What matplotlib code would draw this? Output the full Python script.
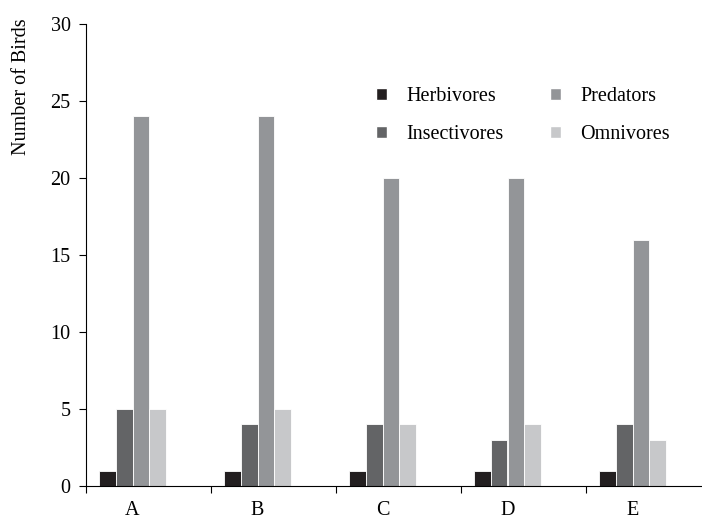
import numpy as np
import matplotlib.pyplot as plt
from matplotlib.patches import Patch

plt.rcParams['font.family'] = ['Liberation Serif', 'DejaVu Serif']

sites = ['A', 'B', 'C', 'D', 'E']
herbivores = [1, 1, 1, 1, 1]
insectivores = [5, 4, 4, 3, 4]
predators = [24, 24, 20, 20, 16]
omnivores = [5, 5, 4, 4, 3]

series = [('Herbivores', herbivores, '#231f20'),
          ('Insectivores', insectivores, '#636466'),
          ('Predators', predators, '#939598'),
          ('Omnivores', omnivores, '#c7c8ca')]

fig = plt.figure(figsize=(7.02, 5.19), dpi=100)
ax = fig.add_axes([86 / 702, 1 - 486 / 519, 1 - 86 / 702, (486 - 24) / 519])

x = np.arange(len(sites))
w = 0.134
for k, (name, vals, col) in enumerate(series):
    ax.bar(x + (k - 1.5) * w, vals, width=w, color=col, edgecolor='white',
           linewidth=0.6, label=name)

# category boundaries as ticks, labels in the middle of each group
ax.set_xlim(-0.372, 4.556)
ax.set_xticks(x - 0.372)
ax.set_xticklabels([])
ax.set_xticks(x, minor=True)
ax.set_xticklabels(sites, minor=True)
ax.tick_params(axis='x', which='major', length=5, direction='out', width=0.8)
ax.tick_params(axis='x', which='minor', length=0, pad=11, labelsize=14.5)

ax.set_ylim(0, 30)
ax.set_yticks([0, 5, 10, 15, 20, 25, 30])
ax.tick_params(axis='y', length=5, width=0.8, pad=6, labelsize=14.5)

ax.spines['top'].set_visible(False)
ax.spines['right'].set_visible(False)
ax.spines['left'].set_linewidth(0.8)
ax.spines['bottom'].set_linewidth(0.8)

ax.set_ylabel('Number of Birds', fontsize=14.5)
ax.yaxis.set_label_coords(-0.09, 0.865)

handles = [Patch(facecolor=c, edgecolor='white', label=n) for n, _, c in series]
ax.legend(handles=handles, ncol=2, frameon=False, fontsize=14.5,
          loc='upper left', bbox_to_anchor=(0.442, 0.903),
          handlelength=0.55, handleheight=0.55, handletextpad=0.95,
          columnspacing=2.3, labelspacing=0.95)

fig.savefig('out.png', dpi=100)
